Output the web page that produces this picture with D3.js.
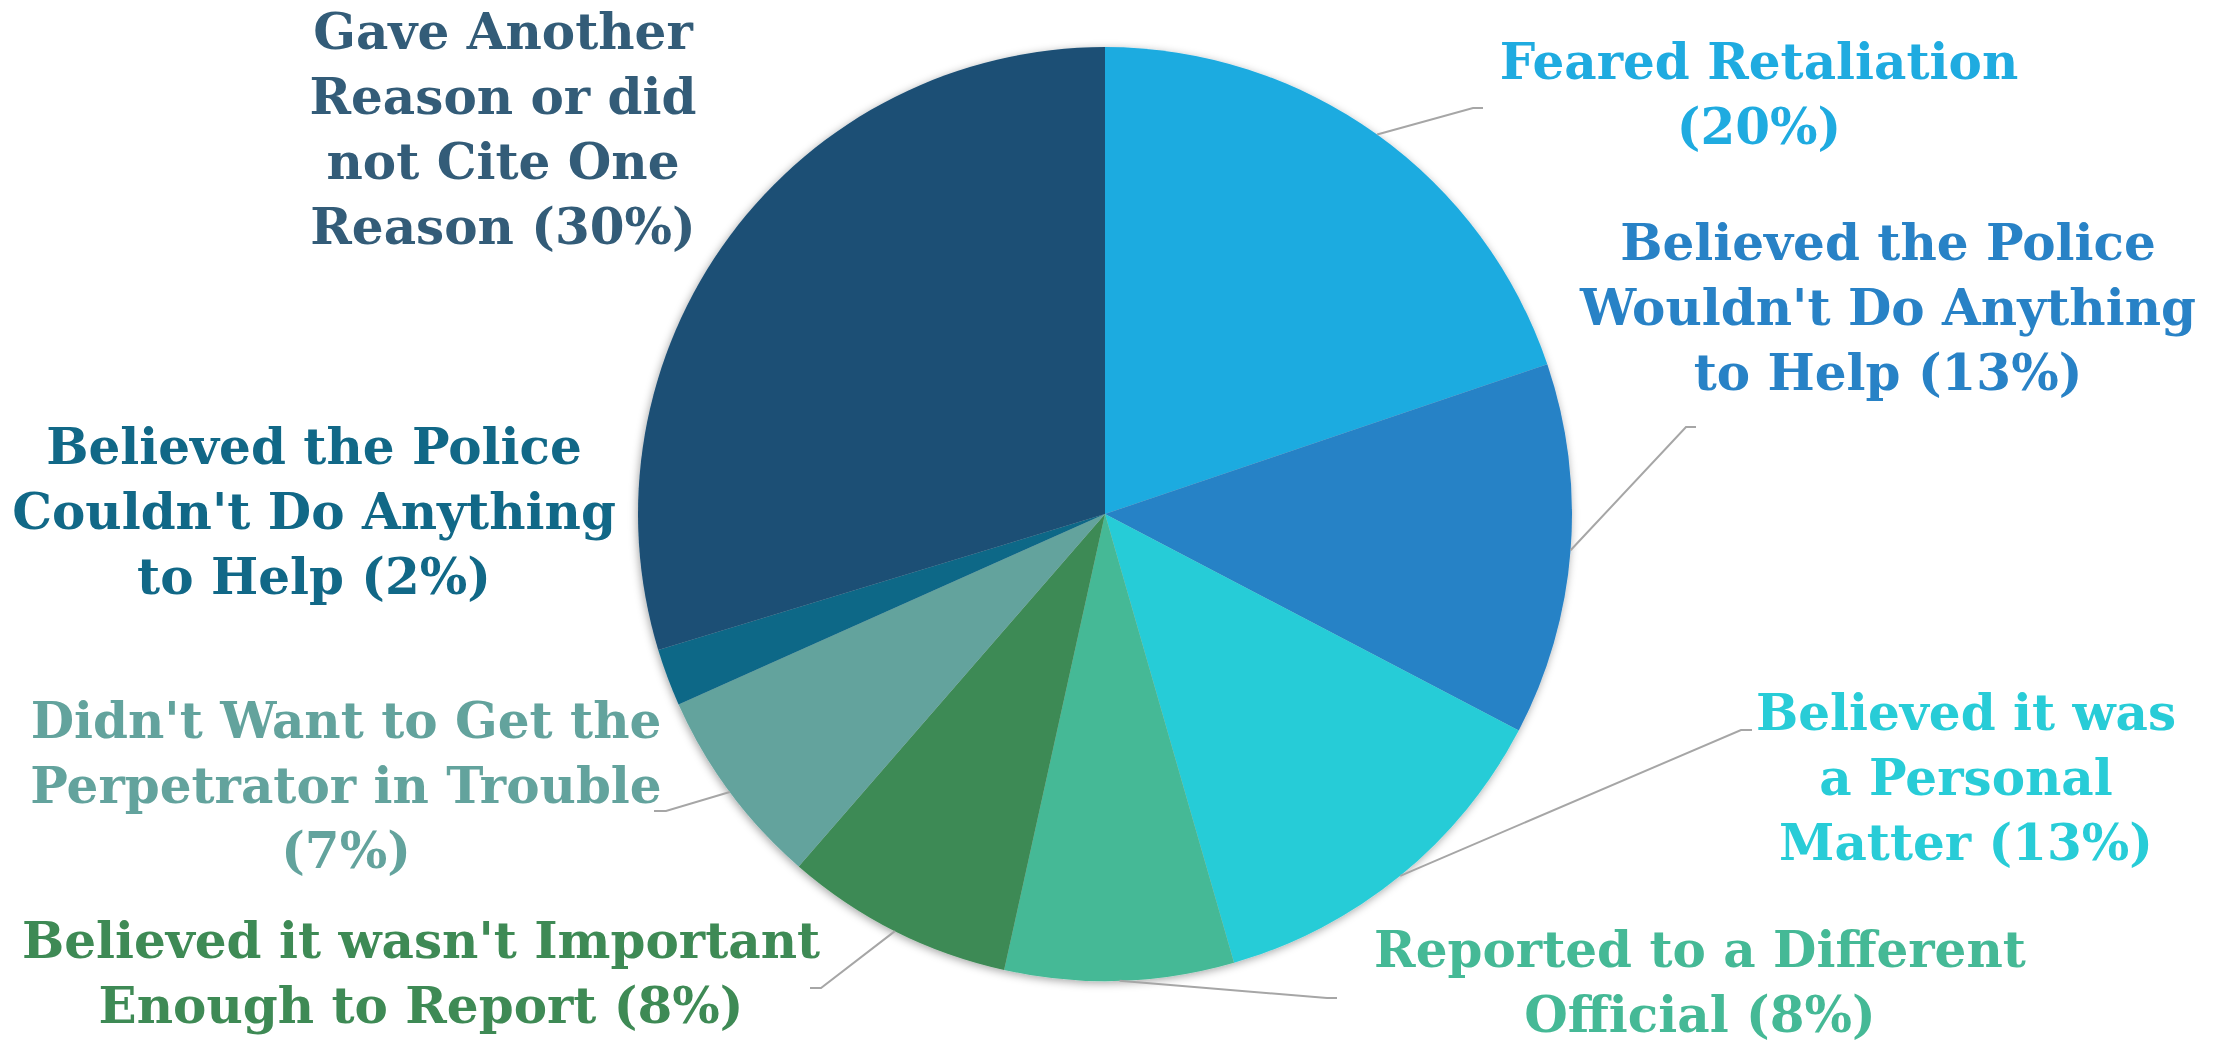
<!DOCTYPE html>
<html>
<head>
<meta charset="utf-8">
<script src="https://cdn.jsdelivr.net/npm/d3@7"></script>
<style>
  body { margin: 0; background: #fff; }
  svg { display: block; }
</style>
</head>
<body>
<div id="chart-area"></div>
<script>
// DATA
// ****

let reasons = [
  "Feared Retaliation",
  "Believed the Police Wouldn't Do Anything to Help",
  "Believed it was a Personal Matter",
  "Reported to a Different Official",
  "Believed it wasn't Important Enough to Report",
  "Didn't Want to Get the Perpetrator in Trouble",
  "Believed the Police Couldn't Do Anything to Help",
  "Gave Another Reason or did not Cite One Reason"
]
let shares = [20, 13, 13, 8, 8, 7, 2, 30]
let labelLines = [
  ["Feared Retaliation", "(20%)"],
  ["Believed the Police", "Wouldn't Do Anything", "to Help (13%)"],
  ["Believed it was", "a Personal", "Matter (13%)"],
  ["Reported to a Different", "Official (8%)"],
  ["Believed it wasn't Important", "Enough to Report (8%)"],
  ["Didn't Want to Get the", "Perpetrator in Trouble", "(7%)"],
  ["Believed the Police", "Couldn't Do Anything", "to Help (2%)"],
  ["Gave Another", "Reason or did", "not Cite One", "Reason (30%)"]
]
let colors = ["#1fabe0", "#2882c6", "#28ccd7", "#45b996", "#3e8a55", "#63a39d", "#116887", "#1b4f75"]
let textColors = ["#1fabe0", "#2882c6", "#28ccd7", "#45b996", "#3e8a55", "#63a39d", "#116887", "#335c78"]

// LAYOUT
// ******

let width = 2221
let height = 1045
let cx = 1105
let cy = 514
let radius = 467
let lineGap = 65

// centre of each label's first line
let labelPos = [
  [1759, 61], [1888, 242], [1966, 712], [1700, 949],
  [421, 940], [346, 720], [314, 446], [503, 31]
]
// leader line elbows (null = no leader)
let elbows = [
  [[1473, 108], [1483, 108]],
  [[1686, 427], [1696, 427]],
  [[1741, 730], [1752, 730]],
  [[1327, 998], [1337, 998]],
  [[821, 988], [810, 988]],
  [[666, 811], [654, 811]],
  null,
  null
]

let svg = d3.select("#chart-area")
  .append("svg")
    .attr("width", width)
    .attr("height", height)

let defs = svg.append("defs")
let filter = defs.append("filter")
  .attr("id", "shadow")
  .attr("x", "-10%").attr("y", "-10%")
  .attr("width", "120%").attr("height", "120%")
filter.append("feDropShadow")
  .attr("dx", -1).attr("dy", 2)
  .attr("stdDeviation", 4)
  .attr("flood-color", "#000")
  .attr("flood-opacity", 0.35)

let g = svg.append("g")
  .attr("transform", "translate(" + cx + ", " + cy + ")")

// PIE
// ***

let pie = d3.pie().sort(null).value(d => d)
let arcs = pie(shares)
let arc = d3.arc().innerRadius(0).outerRadius(radius)

g.append("g")
  .attr("filter", "url(#shadow)")
  .selectAll("path")
  .data(arcs)
  .enter()
  .append("path")
    .attr("d", arc)
    .attr("fill", (d, i) => colors[i])

// LEADER LINES
// ************

let edgeArc = d3.arc().innerRadius(radius).outerRadius(radius)

g.selectAll("polyline")
  .data(arcs.filter((d, i) => elbows[i]))
  .enter()
  .append("polyline")
    .attr("points", d => {
      let e = elbows[d.index]
      let p0 = edgeArc.centroid(d)
      return [p0, [e[0][0] - cx, e[0][1] - cy], [e[1][0] - cx, e[1][1] - cy]]
        .map(p => p.join(",")).join(" ")
    })
    .attr("fill", "none")
    .attr("stroke", "#a6a6a6")
    .attr("stroke-width", 2)

// LABELS
// ******

let labels = svg.append("g")
  .attr("font-family", "'DejaVu Serif', 'Liberation Serif', serif")
  .attr("font-weight", "bold")
  .attr("font-size", "50px")
  .attr("text-anchor", "middle")

labelLines.forEach((lines, i) => {
  let t = labels.append("text")
    .attr("fill", textColors[i])
  lines.forEach((line, j) => {
    t.append("tspan")
      .attr("x", labelPos[i][0])
      .attr("y", labelPos[i][1] + j * lineGap)
      .attr("dy", "0.35em")
      .text(line)
  })
})
</script>
</body>
</html>
